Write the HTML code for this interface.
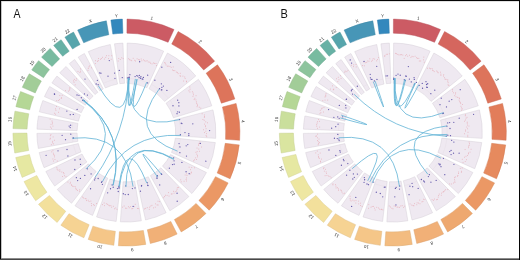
<!DOCTYPE html><html><head><meta charset="utf-8"><style>
html,body{margin:0;padding:0;background:#fff}
svg{display:block}
text{font-family:"Liberation Sans",sans-serif;font-size:4.6px;fill:#333;text-anchor:middle}
.tl{opacity:.99;will-change:transform}
.tr{fill:#efe9f1;stroke:#d3ccd5;stroke-width:.45}
.lab{font-size:12px;fill:#111;text-anchor:start}
</style></head><body>
<svg width="520" height="260" viewBox="0 0 520 260">
<rect x="0" y="0" width="520" height="260" fill="#fff"/>
<rect x="0" y="1" width="520" height="1" fill="#e2e2e2"/>
<rect x="1" y="0" width="1" height="260" fill="#c4c4c4"/>
<rect x="0" y="258" width="520" height="1" fill="#8c8c8c"/>
<rect x="0" y="0" width="520" height="1" fill="#050505"/>
<rect x="0" y="0" width="1" height="260" fill="#050505"/>
<rect x="0" y="259" width="520" height="1" fill="#484848"/>
<rect x="519" y="0" width="1" height="260" fill="#050505"/>
<g class="tl"><text class="lab" x="13.5" y="17.6" transform="translate(13.5 0) scale(0.88 1) translate(-13.5 0)">A</text>
<text class="lab" x="280.6" y="17.6" transform="translate(280.6 0) scale(0.92 1) translate(-280.6 0)">B</text></g>
<path d="M126.99 19.05A113.5 113.5 0 0 1 174.01 29.52L168.09 42.32A99.4 99.4 0 0 0 126.92 33.15Z" fill="#cc5b64" stroke="#b7515a" stroke-width="0.45"/>
<path d="M178.14 31.53A113.5 113.5 0 0 1 214.64 61.16L203.68 70.03A99.4 99.4 0 0 0 171.71 44.08Z" fill="#d5665e" stroke="#bf5b54" stroke-width="0.45"/>
<path d="M217.46 64.8A113.5 113.5 0 0 1 234.83 99.01L221.36 103.18A99.4 99.4 0 0 0 206.15 73.21Z" fill="#dd745b" stroke="#c66851" stroke-width="0.45"/>
<path d="M236.1 103.43A113.5 113.5 0 0 1 239.63 140.31L225.57 139.35A99.4 99.4 0 0 0 222.47 107.05Z" fill="#e27d5a" stroke="#cb7051" stroke-width="0.45"/>
<path d="M239.23 144.89A113.5 113.5 0 0 1 230.07 178.76L217.19 173.02A99.4 99.4 0 0 0 225.21 143.36Z" fill="#e68a5e" stroke="#cf7c54" stroke-width="0.45"/>
<path d="M228.11 182.93A113.5 113.5 0 0 1 209.18 210.2L198.9 200.55A99.4 99.4 0 0 0 215.47 176.67Z" fill="#eb9865" stroke="#d3885a" stroke-width="0.45"/>
<path d="M205.97 213.49A113.5 113.5 0 0 1 181.2 231.95L174.39 219.6A99.4 99.4 0 0 0 196.08 203.44Z" fill="#eea86f" stroke="#d69763" stroke-width="0.45"/>
<path d="M177.12 234.08A113.5 113.5 0 0 1 150.31 243.5L147.34 229.72A99.4 99.4 0 0 0 170.82 221.47Z" fill="#f1b077" stroke="#d89e6b" stroke-width="0.45"/>
<path d="M145.79 244.38A113.5 113.5 0 0 1 118.4 245.77L119.39 231.7A99.4 99.4 0 0 0 143.38 230.49Z" fill="#f3bc80" stroke="#daa973" stroke-width="0.45"/>
<path d="M113.82 245.35A113.5 113.5 0 0 1 88.17 239.42L92.92 226.14A99.4 99.4 0 0 0 115.38 231.34Z" fill="#f5c688" stroke="#dcb27a" stroke-width="0.45"/>
<path d="M83.87 237.78A113.5 113.5 0 0 1 60.85 225.21L68.99 213.7A99.4 99.4 0 0 0 89.15 224.71Z" fill="#f6d393" stroke="#ddbd84" stroke-width="0.45"/>
<path d="M57.15 222.48A113.5 113.5 0 0 1 38.5 204.35L49.42 195.43A99.4 99.4 0 0 0 65.75 211.3Z" fill="#f3e09c" stroke="#dac98c" stroke-width="0.45"/>
<path d="M35.66 200.73A113.5 113.5 0 0 1 24.04 181.6L36.76 175.5A99.4 99.4 0 0 0 46.94 192.26Z" fill="#eee7a2" stroke="#d6cf91" stroke-width="0.45"/>
<path d="M22.14 177.41A113.5 113.5 0 0 1 15.69 157.56L29.44 154.45A99.4 99.4 0 0 0 35.09 171.84Z" fill="#e6e8a2" stroke="#cfd091" stroke-width="0.45"/>
<path d="M14.77 153.05A113.5 113.5 0 0 1 12.9 133.2L27 133.12A99.4 99.4 0 0 0 28.64 150.51Z" fill="#dae5a0" stroke="#c4ce90" stroke-width="0.45"/>
<path d="M12.97 128.61A113.5 113.5 0 0 1 14.94 111.14L28.78 113.8A99.4 99.4 0 0 0 27.06 129.1Z" fill="#cadf9c" stroke="#b5c88c" stroke-width="0.45"/>
<path d="M15.9 106.64A113.5 113.5 0 0 1 20.56 91.55L33.71 96.64A99.4 99.4 0 0 0 29.62 109.86Z" fill="#b5d796" stroke="#a2c187" stroke-width="0.45"/>
<path d="M22.31 87.3A113.5 113.5 0 0 1 29.29 73.8L41.35 81.1A99.4 99.4 0 0 0 35.24 92.92Z" fill="#a2cd98" stroke="#91b888" stroke-width="0.45"/>
<path d="M31.75 69.92A113.5 113.5 0 0 1 38.58 60.65L49.49 69.59A99.4 99.4 0 0 0 43.51 77.7Z" fill="#8dc49d" stroke="#7eb08d" stroke-width="0.45"/>
<path d="M41.56 57.16A113.5 113.5 0 0 1 50.19 48.44L59.66 58.89A99.4 99.4 0 0 0 52.1 66.52Z" fill="#78bba0" stroke="#6ca890" stroke-width="0.45"/>
<path d="M53.66 45.42A113.5 113.5 0 0 1 61.1 39.72L69.21 51.25A99.4 99.4 0 0 0 62.7 56.25Z" fill="#67b1a5" stroke="#5c9f94" stroke-width="0.45"/>
<path d="M64.91 37.15A113.5 113.5 0 0 1 73.53 32.11L80.1 44.59A99.4 99.4 0 0 0 72.55 49Z" fill="#56a5ac" stroke="#4d949a" stroke-width="0.45"/>
<path d="M77.64 30.06A113.5 113.5 0 0 1 106.34 20.84L108.83 34.71A99.4 99.4 0 0 0 83.7 42.79Z" fill="#4796b7" stroke="#3f87a4" stroke-width="0.45"/>
<path d="M110.88 20.12A113.5 113.5 0 0 1 122.4 19.12L122.89 33.21A99.4 99.4 0 0 0 112.81 34.08Z" fill="#3388bd" stroke="#2d7aaa" stroke-width="0.45"/>
<g class="tl">
<text x="151.52" y="19.71" transform="rotate(12.55 151.52 19.71)">1</text>
<text x="199.27" y="42.81" transform="rotate(39.07 199.27 42.81)">2</text>
<text x="229.47" y="80.21" transform="rotate(63.08 229.47 80.21)">3</text>
<text x="241.47" y="121.53" transform="rotate(84.53 241.47 121.53)">4</text>
<text x="237.99" y="162.73" transform="rotate(105.14 237.99 162.73)">5</text>
<text x="221.37" y="198.46" transform="rotate(124.76 221.37 198.46)">6</text>
<text x="195.47" y="225.25" transform="rotate(143.31 195.47 225.25)">7</text>
<text x="164.71" y="241.62" transform="rotate(160.65 164.71 241.62)">8</text>
<text x="132.24" y="248" transform="rotate(177.1 132.24 248)">9</text>
<text x="100.35" y="245.18" transform="rotate(193.02 100.35 245.18)">10</text>
<text x="70.99" y="234" transform="rotate(208.64 70.99 234)">11</text>
<text x="45.84" y="215.46" transform="rotate(224.18 45.84 215.46)">12</text>
<text x="27.59" y="192.54" transform="rotate(238.74 27.59 192.54)">13</text>
<text x="16.46" y="168.28" transform="rotate(251.99 16.46 168.28)">14</text>
<text x="11.31" y="143.37" transform="rotate(264.63 11.31 143.37)">15</text>
<text x="11.53" y="119.6" transform="rotate(276.43 11.53 119.6)">16</text>
<text x="15.96" y="98.4" transform="rotate(287.18 15.96 98.4)">17</text>
<text x="23.71" y="79.47" transform="rotate(297.33 23.71 79.47)">18</text>
<text x="33.35" y="63.95" transform="rotate(306.4 33.35 63.95)">19</text>
<text x="44.27" y="51.2" transform="rotate(314.72 44.27 51.2)">20</text>
<text x="56.04" y="40.83" transform="rotate(322.51 56.04 40.83)">21</text>
<text x="68.11" y="32.72" transform="rotate(329.72 68.11 32.72)">22</text>
<text x="91.04" y="22.49" transform="rotate(342.19 91.04 22.49)">X</text>
<text x="116.45" y="17.38" transform="rotate(355.06 116.45 17.38)">Y</text>
</g>
<path d="M127.18 43.05A89.5 89.5 0 0 1 163.66 51.17L146.92 87.72A49.3 49.3 0 0 0 126.83 83.25Z" class="tr"/>
<path d="M167.48 53.03A89.5 89.5 0 0 1 195.78 76.02L164.62 101.41A49.3 49.3 0 0 0 149.03 88.75Z" class="tr"/>
<path d="M198.39 79.37A89.5 89.5 0 0 1 211.81 105.8L173.45 117.82A49.3 49.3 0 0 0 166.05 103.26Z" class="tr"/>
<path d="M212.98 109.89A89.5 89.5 0 0 1 215.71 138.36L175.6 135.75A49.3 49.3 0 0 0 174.09 120.07Z" class="tr"/>
<path d="M215.33 142.59A89.5 89.5 0 0 1 208.27 168.71L171.5 152.47A49.3 49.3 0 0 0 175.39 138.08Z" class="tr"/>
<path d="M206.46 172.55A89.5 89.5 0 0 1 191.89 193.55L162.47 166.15A49.3 49.3 0 0 0 170.5 154.59Z" class="tr"/>
<path d="M188.92 196.59A89.5 89.5 0 0 1 169.88 210.78L150.35 175.64A49.3 49.3 0 0 0 160.84 167.83Z" class="tr"/>
<path d="M166.12 212.75A89.5 89.5 0 0 1 145.56 219.98L136.95 180.71A49.3 49.3 0 0 0 148.28 176.73Z" class="tr"/>
<path d="M141.38 220.79A89.5 89.5 0 0 1 120.4 221.85L123.1 181.74A49.3 49.3 0 0 0 134.65 181.15Z" class="tr"/>
<path d="M116.17 221.46A89.5 89.5 0 0 1 96.55 216.92L109.96 179.03A49.3 49.3 0 0 0 120.76 181.53Z" class="tr"/>
<path d="M92.57 215.41A89.5 89.5 0 0 1 74.97 205.79L98.07 172.9A49.3 49.3 0 0 0 107.77 178.19Z" class="tr"/>
<path d="M71.55 203.27A89.5 89.5 0 0 1 57.28 189.41L88.33 163.87A49.3 49.3 0 0 0 96.18 171.51Z" class="tr"/>
<path d="M54.66 186.07A89.5 89.5 0 0 1 45.82 171.51L82.02 154.01A49.3 49.3 0 0 0 86.88 162.03Z" class="tr"/>
<path d="M44.06 167.64A89.5 89.5 0 0 1 39.17 152.58L78.35 143.58A49.3 49.3 0 0 0 81.05 151.88Z" class="tr"/>
<path d="M38.32 148.41A89.5 89.5 0 0 1 36.9 133.38L77.1 133.01A49.3 49.3 0 0 0 77.88 141.29Z" class="tr"/>
<path d="M36.97 129.13A89.5 89.5 0 0 1 38.45 115.97L77.95 123.42A49.3 49.3 0 0 0 77.14 130.66Z" class="tr"/>
<path d="M39.33 111.82A89.5 89.5 0 0 1 42.83 100.51L80.37 114.9A49.3 49.3 0 0 0 78.44 121.13Z" class="tr"/>
<path d="M44.45 96.58A89.5 89.5 0 0 1 49.66 86.49L84.13 107.18A49.3 49.3 0 0 0 81.26 112.74Z" class="tr"/>
<path d="M51.93 82.9A89.5 89.5 0 0 1 56.95 76.1L88.14 101.45A49.3 49.3 0 0 0 85.38 105.2Z" class="tr"/>
<path d="M59.71 72.86A89.5 89.5 0 0 1 66.08 66.44L93.17 96.13A49.3 49.3 0 0 0 89.66 99.67Z" class="tr"/>
<path d="M69.28 63.65A89.5 89.5 0 0 1 74.65 59.53L97.89 92.33A49.3 49.3 0 0 0 94.94 94.59Z" class="tr"/>
<path d="M78.17 57.15A89.5 89.5 0 0 1 84.43 53.5L103.28 89.01A49.3 49.3 0 0 0 99.84 91.02Z" class="tr"/>
<path d="M88.24 51.6A89.5 89.5 0 0 1 110.28 44.51L117.52 84.06A49.3 49.3 0 0 0 105.38 87.96Z" class="tr"/>
<path d="M114.47 43.85A89.5 89.5 0 0 1 122.93 43.12L124.49 83.29A49.3 49.3 0 0 0 119.83 83.69Z" class="tr"/>
<path d="M126.87 78.15A54.4 54.4 0 0 1 149.05 83.09M151.37 84.22A54.4 54.4 0 0 1 168.57 98.19M170.16 100.23A54.4 54.4 0 0 1 178.31 116.29M179.03 118.78A54.4 54.4 0 0 1 180.69 136.08M180.46 138.66A54.4 54.4 0 0 1 176.16 154.53M175.06 156.86A54.4 54.4 0 0 1 166.21 169.63M164.4 171.48A54.4 54.4 0 0 1 152.83 180.1M150.54 181.3A54.4 54.4 0 0 1 138.04 185.69M135.51 186.18A54.4 54.4 0 0 1 122.75 186.83M120.18 186.59A54.4 54.4 0 0 1 108.25 183.83M105.84 182.91A54.4 54.4 0 0 1 95.14 177.07M93.06 175.54A54.4 54.4 0 0 1 84.39 167.11M82.8 165.08A54.4 54.4 0 0 1 77.42 156.23M76.35 153.88A54.4 54.4 0 0 1 73.38 144.72M72.86 142.19A54.4 54.4 0 0 1 72 133.05M72.04 130.47A54.4 54.4 0 0 1 72.94 122.48M73.48 119.95A54.4 54.4 0 0 1 75.6 113.08M76.59 110.69A54.4 54.4 0 0 1 79.76 104.56M81.14 102.37A54.4 54.4 0 0 1 84.19 98.24M85.86 96.27A54.4 54.4 0 0 1 89.73 92.36M91.68 90.67A54.4 54.4 0 0 1 94.94 88.17M97.09 86.72A54.4 54.4 0 0 1 100.89 84.5M103.2 83.34A54.4 54.4 0 0 1 116.6 79.04M119.15 78.64A54.4 54.4 0 0 1 124.29 78.19" fill="none" stroke="#e2dce4" stroke-width=".4"/>
<path d="M128.35 58.69h.7M129.29 59.72h.7M130.48 60.09h.7M131.42 60.64h.7M132.8 58.36h.7M134.44 60.29h.7M135.01 61.07h.7M136.74 58.82h.7M138.49 59.49h.7M138.96 60h.7M140.83 59.06h.7M141.52 60.76h.7M143.18 59.82h.7M144.27 60.78h.7M145.52 61.17h.7M146.74 60.7h.7M147.87 62h.7M149.45 62.18h.7M150.2 63.2h.7M151.66 63.84h.7M153.23 62.95h.7M154.3 63.42h.7M155.63 63.52h.7M156.22 65.57h.7M164 62.68h.7M165.09 63.16h.7M165.65 64.89h.7M166.87 66.2h.7M167.84 66.15h.7M169.58 66.38h.7M170.8 67.38h.7M172.83 66.93h.7M172.31 69.99h.7M173.28 70.56h.7M174.48 70.6h.7M175.91 72.06h.7M176.97 72.44h.7M177.76 73.58h.7M179.86 73.36h.7M179.65 75.71h.7M180.38 76.2h.7M182.57 76.16h.7M184.43 77.02h.7M184.78 78.53h.7M183.36 81.06h.7M185.98 81.19h.7M186.26 81.85h.7M189.53 86.99h.7M189.69 89.22h.7M188.57 90.81h.7M189.57 92.07h.7M191.98 91.76h.7M192.77 93.1h.7M193.07 94.76h.7M192.62 96.39h.7M195.7 95.69h.7M194.52 98.35h.7M193.77 99.55h.7M195.59 99.88h.7M195.96 101.84h.7M196.11 103.3h.7M196.9 104.28h.7M197.31 105.59h.7M196.69 106.69h.7M198.87 107.24h.7M200.48 108.15h.7M201.77 113.72h.7M203.98 115h.7M204.05 116.55h.7M203.93 117.37h.7M202.58 119.51h.7M203.81 120.28h.7M205.43 121.84h.7M207.13 122.79h.7M204.15 124.13h.7M205.29 125.72h.7M205.3 126.69h.7M205.75 128.69h.7M203.07 129.72h.7M205.53 131.23h.7M204.17 132.55h.7M206.13 133.64h.7M205.72 135.55h.7M206.39 136.69h.7M199.57 141.97h.7M199.23 143.46h.7M198.01 144.01h.7M198.13 145.32h.7M201.33 147.02h.7M196.66 148.07h.7M198.49 149.1h.7M199.25 151.31h.7M196.79 151.62h.7M195.59 152.36h.7M196.43 154.14h.7M197.26 155.36h.7M197.24 156.87h.7M195.36 157.87h.7M196.08 159.5h.7M194.27 159.87h.7M193.32 160.85h.7M194.03 167.78h.7M191.45 167.47h.7M188.76 167.24h.7M190.19 169.66h.7M190.92 172.14h.7M190.92 172.88h.7M189.86 174.03h.7M186.39 173.79h.7M186.67 175.47h.7M184.78 175.04h.7M186.21 177.93h.7M185.74 179.44h.7M186.1 180.99h.7M183.73 181.3h.7M180.4 179.84h.7M180.85 181.82h.7M178.29 187.43h.7M176.94 187.63h.7M176.71 189.27h.7M176.36 190.95h.7M174.9 191.67h.7M173.24 191.33h.7M173.69 193.22h.7M171.72 193.88h.7M170.91 194h.7M168.21 192.58h.7M168.68 196.07h.7M166.72 195.42h.7M165.08 195.25h.7M164.23 196.51h.7M163.41 197.73h.7M159.26 201.6h.7M157.67 201.25h.7M157.71 205.05h.7M156.75 204.91h.7M155.11 203.83h.7M154.88 207.19h.7M153.15 207.87h.7M151.62 205.37h.7M150.49 206.03h.7M149.35 207.18h.7M148.89 209.37h.7M146.87 207.63h.7M145.35 208.36h.7M144.18 208.98h.7M138.4 208.6h.7M137.17 208.46h.7M134.85 204.37h.7M133.81 206.61h.7M132.5 208.53h.7M131.52 208.75h.7M130.3 206.62h.7M128.88 207.79h.7M127.97 206.61h.7M126.46 208.31h.7M125.08 208.21h.7M123.77 206.02h.7M122.32 207.16h.7M116.6 209.3h.7M115.45 207.97h.7M114.06 208.77h.7M112.95 206.3h.7M111.37 207.23h.7M110.56 205.64h.7M109.35 205.77h.7M108.41 205.18h.7M107.18 204.32h.7M105.95 203.75h.7M104.05 205.64h.7M103.77 203h.7M102.16 204.6h.7M96.09 203.53h.7M93.96 205.39h.7M93.24 204.62h.7M91.25 205.63h.7M90.97 203.59h.7M90.51 201.13h.7M88.71 201.54h.7M87.81 200.28h.7M86.1 200.56h.7M85.72 198.87h.7M84.8 198.52h.7M83.11 197.92h.7M82.07 197.05h.7M79.08 191.3h.7M79.42 189.77h.7M77.01 190.43h.7M75.92 189.58h.7M75.54 188.58h.7M75.05 186.9h.7M73.68 186.55h.7M72.48 186.39h.7M71.49 185.51h.7M71.01 184.75h.7M69.74 183.65h.7M70.1 182.28h.7M67.6 182.1h.7M65.66 176.72h.7M64.05 175.71h.7M62 176.53h.7M63.65 173.67h.7M63.04 172.55h.7M61.49 172.05h.7M59.5 171.33h.7M59.5 169.86h.7M57.69 170.26h.7M56.79 169.25h.7M56.52 167.66h.7M56.89 161.12h.7M53.08 161.06h.7M54.62 159.44h.7M52.54 158.99h.7M54.03 156.86h.7M54.26 155.25h.7M53.24 154.7h.7M52.96 153.22h.7M51.45 151.86h.7M52.6 150.64h.7M50.95 144.66h.7M53.32 143.85h.7M52.13 142.77h.7M52.35 141.35h.7M53.99 140.29h.7M49.64 139.14h.7M50.23 138.24h.7M52.76 136.93h.7M49.95 135.67h.7M50.6 134.6h.7M51.12 128.23h.7M49.96 127.06h.7M52.59 126.12h.7M50.66 124.35h.7M52.09 123.8h.7M51.95 122.31h.7M51.67 120.99h.7M49.75 119.15h.7M55.32 114.24h.7M54.08 113.26h.7M58.06 112.34h.7M55.58 110.3h.7M55.27 108.8h.7M59.08 108.8h.7M56.21 106.51h.7M56.43 100.7h.7M58.36 100.47h.7M59.25 99.54h.7M60.82 98.3h.7M61.32 97.81h.7M59.51 95.54h.7M61.83 95.37h.7M65.17 90.6h.7M67.99 91.17h.7M69.29 90.08h.7M69.55 88.79h.7M69.51 87.68h.7M74.81 84.82h.7M73.68 82.3h.7M73.33 80.86h.7M73.95 79.41h.7M75.64 80.52h.7M76.33 78.8h.7M77.65 71.43h.7M79.62 72.51h.7M80.15 71.22h.7M80.02 68.94h.7M87.66 70.38h.7M87.87 68.46h.7M88.54 66.96h.7M89.14 65.96h.7M91.05 67.77h.7M94.94 63.55h.7M95.12 60.65h.7M97.07 61.39h.7M97.9 60.6h.7M98.17 58.54h.7M100.03 59.27h.7M101 58.59h.7M102.02 57.32h.7M103.95 59.07h.7M105.4 57.42h.7M106.06 55.68h.7M108.09 58.6h.7M108.54 55.68h.7M110.84 59.3h.7M111.4 55.75h.7M117.84 61.01h.7M118.45 58.49h.7M119.9 59.47h.7M121.43 57.75h.7M122.78 58.61h.7" stroke="#e2848f" stroke-width=".75" opacity=".75" fill="none"/>
<g fill="#4a3f9f" opacity=".85"><circle cx="142.15" cy="78.97" r=".65"/><circle cx="147.66" cy="75.19" r=".65"/><circle cx="140.91" cy="76.67" r=".65"/><circle cx="139.67" cy="61.77" r=".65"/><circle cx="142.85" cy="79.15" r=".65"/><circle cx="139.32" cy="75.39" r=".65"/><circle cx="139.1" cy="77.65" r=".65"/><circle cx="143.39" cy="77.42" r=".65"/><circle cx="140.59" cy="78.26" r=".65"/><circle cx="161.82" cy="67.16" r=".65"/><circle cx="161.35" cy="83.85" r=".65"/><circle cx="161.87" cy="89.79" r=".65"/><circle cx="161.88" cy="87.28" r=".65"/><circle cx="163.35" cy="86.1" r=".65"/><circle cx="170.62" cy="62.44" r=".65"/><circle cx="161.39" cy="89.79" r=".65"/><circle cx="154.88" cy="80.26" r=".65"/><circle cx="166.89" cy="90.43" r=".65"/><circle cx="177.67" cy="100.19" r=".65"/><circle cx="178.89" cy="105.89" r=".65"/><circle cx="177.01" cy="113.7" r=".65"/><circle cx="172.97" cy="105.74" r=".65"/><circle cx="177.76" cy="111.82" r=".65"/><circle cx="179.43" cy="112.17" r=".65"/><circle cx="178.83" cy="102.71" r=".65"/><circle cx="181.94" cy="123.54" r=".65"/><circle cx="184.97" cy="132.58" r=".65"/><circle cx="188.82" cy="133.63" r=".65"/><circle cx="188.81" cy="135.52" r=".65"/><circle cx="209.61" cy="130.55" r=".65"/><circle cx="192.82" cy="123.79" r=".65"/><circle cx="181.26" cy="123.26" r=".65"/><circle cx="186.48" cy="156.03" r=".65"/><circle cx="186.17" cy="145.82" r=".65"/><circle cx="187.78" cy="144.61" r=".65"/><circle cx="200.3" cy="143.44" r=".65"/><circle cx="179.05" cy="143.58" r=".65"/><circle cx="179.95" cy="146.93" r=".65"/><circle cx="205.84" cy="161.14" r=".65"/><circle cx="189.18" cy="173.65" r=".65"/><circle cx="174.14" cy="164.18" r=".65"/><circle cx="181.91" cy="162.41" r=".65"/><circle cx="169.38" cy="168.15" r=".65"/><circle cx="186.07" cy="171.74" r=".65"/><circle cx="172.46" cy="164.53" r=".65"/><circle cx="161.66" cy="174.44" r=".65"/><circle cx="157.42" cy="175.65" r=".65"/><circle cx="157.01" cy="178.4" r=".65"/><circle cx="177.19" cy="201.23" r=".65"/><circle cx="159.73" cy="184.89" r=".65"/><circle cx="177.06" cy="193.23" r=".65"/><circle cx="147.7" cy="185.21" r=".65"/><circle cx="147.99" cy="185.56" r=".65"/><circle cx="141.47" cy="186" r=".65"/><circle cx="140.45" cy="191.14" r=".65"/><circle cx="141.61" cy="185.53" r=".65"/><circle cx="134.97" cy="187.95" r=".65"/><circle cx="128.27" cy="194.52" r=".65"/><circle cx="123.31" cy="193.75" r=".65"/><circle cx="125.23" cy="194.57" r=".65"/><circle cx="133.14" cy="206.46" r=".65"/><circle cx="107.66" cy="192.86" r=".65"/><circle cx="117.44" cy="188.57" r=".65"/><circle cx="118.25" cy="191.48" r=".65"/><circle cx="110.51" cy="188.73" r=".65"/><circle cx="119.03" cy="187.91" r=".65"/><circle cx="94.61" cy="179.91" r=".65"/><circle cx="90.56" cy="188.77" r=".65"/><circle cx="101.5" cy="182.33" r=".65"/><circle cx="98.15" cy="178.49" r=".65"/><circle cx="102.38" cy="184.37" r=".65"/><circle cx="77.67" cy="180.54" r=".65"/><circle cx="76.36" cy="177.69" r=".65"/><circle cx="84.81" cy="175.44" r=".65"/><circle cx="91.1" cy="173.91" r=".65"/><circle cx="80.41" cy="178.43" r=".65"/><circle cx="74.98" cy="160" r=".65"/><circle cx="74.78" cy="169.5" r=".65"/><circle cx="80.55" cy="164.45" r=".65"/><circle cx="80.2" cy="159.2" r=".65"/><circle cx="67.01" cy="149.5" r=".65"/><circle cx="46.1" cy="155.35" r=".65"/><circle cx="58.01" cy="150.84" r=".65"/><circle cx="67.92" cy="155.98" r=".65"/><circle cx="62.13" cy="135.35" r=".65"/><circle cx="73.45" cy="138.09" r=".65"/><circle cx="65.52" cy="139.67" r=".65"/><circle cx="70.78" cy="134.18" r=".65"/><circle cx="70.65" cy="125.24" r=".65"/><circle cx="70.15" cy="127.59" r=".65"/><circle cx="69.15" cy="126.09" r=".65"/><circle cx="70.25" cy="114.7" r=".65"/><circle cx="73.28" cy="114.38" r=".65"/><circle cx="66.85" cy="111.08" r=".65"/><circle cx="77.1" cy="109.45" r=".65"/><circle cx="54.61" cy="94.24" r=".65"/><circle cx="54.35" cy="94" r=".65"/><circle cx="78.96" cy="95.36" r=".65"/><circle cx="77.03" cy="94.99" r=".65"/><circle cx="87.42" cy="95.06" r=".65"/><circle cx="84.46" cy="93.92" r=".65"/><circle cx="85.01" cy="79.07" r=".65"/><circle cx="98.16" cy="84.76" r=".65"/><circle cx="97.37" cy="80.35" r=".65"/><circle cx="100.91" cy="73.15" r=".65"/><circle cx="99.74" cy="72.93" r=".65"/><circle cx="108.01" cy="76.21" r=".65"/><circle cx="109.29" cy="60.59" r=".65"/><circle cx="114.58" cy="73.06" r=".65"/><circle cx="114.97" cy="78.28" r=".65"/><circle cx="119.3" cy="70.44" r=".65"/><circle cx="122.27" cy="77.58" r=".65"/><circle cx="96.16" cy="84" r=".65"/><circle cx="127.4" cy="77.93" r=".65"/><circle cx="129.18" cy="79.02" r=".65"/><circle cx="179.64" cy="119.62" r=".65"/><circle cx="129.87" cy="74.7" r=".65"/><circle cx="95.14" cy="178.05" r=".65"/><circle cx="129.25" cy="77.13" r=".65"/><circle cx="135.09" cy="76.54" r=".65"/><circle cx="128.91" cy="77.43" r=".65"/><circle cx="136.78" cy="75.55" r=".65"/><circle cx="137.76" cy="76.09" r=".65"/><circle cx="147.6" cy="82.92" r=".65"/><circle cx="159.53" cy="88.74" r=".65"/><circle cx="179.87" cy="152.67" r=".65"/><circle cx="180.36" cy="134.76" r=".65"/><circle cx="101.97" cy="181.56" r=".65"/><circle cx="173.65" cy="157.79" r=".65"/><circle cx="118.98" cy="187.85" r=".65"/><circle cx="174.06" cy="160.85" r=".65"/><circle cx="125.69" cy="185.86" r=".65"/><circle cx="161.28" cy="173.82" r=".65"/><circle cx="156.99" cy="177.01" r=".65"/><circle cx="147.43" cy="182.85" r=".65"/><circle cx="118.9" cy="186.39" r=".65"/><circle cx="73.17" cy="137.91" r=".65"/><circle cx="132.37" cy="188.55" r=".65"/><circle cx="84.26" cy="100.7" r=".65"/><circle cx="113.18" cy="187.27" r=".65"/><circle cx="81.3" cy="97.75" r=".65"/><circle cx="112.14" cy="184.88" r=".65"/><circle cx="82.73" cy="100.25" r=".65"/><circle cx="87.37" cy="168.81" r=".65"/></g>
<path d="M98.38 85.92Q126.4 132.55 128.3 78.18M128.3 78.18Q126.4 132.55 179.25 119.67M128.77 78.2Q126.4 132.55 95.2 177.11M128.3 78.18Q126.4 132.55 135.38 78.9M129.25 78.22Q126.4 132.55 137.25 79.24M136.78 79.15Q126.4 132.55 146.78 82.11M159.14 89.1Q126.4 132.55 177.52 151.16M180.73 135.4Q126.4 132.55 102.55 181.44M173.98 158.92Q126.4 132.55 119.3 186.48M173.7 159.42Q126.4 132.55 125.93 186.95M161.37 174.22Q126.4 132.55 157.6 177.11M146.78 182.99Q126.4 132.55 118.83 186.42M72.3 138.24Q126.4 132.55 133.03 186.54M82.95 99.81Q126.4 132.55 113.24 185.33M83.13 99.58Q126.4 132.55 112.96 185.26M82.67 100.19Q126.4 132.55 85.97 168.95" stroke="#5fb3d6" stroke-width=".8" fill="none"/>
<path d="M393.44 19.05A113.5 113.5 0 0 1 440.46 29.52L434.54 42.32A99.4 99.4 0 0 0 393.37 33.15Z" fill="#cc5b64" stroke="#b7515a" stroke-width="0.45"/>
<path d="M444.59 31.53A113.5 113.5 0 0 1 481.09 61.16L470.13 70.03A99.4 99.4 0 0 0 438.16 44.08Z" fill="#d5665e" stroke="#bf5b54" stroke-width="0.45"/>
<path d="M483.91 64.8A113.5 113.5 0 0 1 501.28 99.01L487.81 103.18A99.4 99.4 0 0 0 472.6 73.21Z" fill="#dd745b" stroke="#c66851" stroke-width="0.45"/>
<path d="M502.55 103.43A113.5 113.5 0 0 1 506.08 140.31L492.02 139.35A99.4 99.4 0 0 0 488.92 107.05Z" fill="#e27d5a" stroke="#cb7051" stroke-width="0.45"/>
<path d="M505.68 144.89A113.5 113.5 0 0 1 496.52 178.76L483.64 173.02A99.4 99.4 0 0 0 491.66 143.36Z" fill="#e68a5e" stroke="#cf7c54" stroke-width="0.45"/>
<path d="M494.56 182.93A113.5 113.5 0 0 1 475.63 210.2L465.35 200.55A99.4 99.4 0 0 0 481.92 176.67Z" fill="#eb9865" stroke="#d3885a" stroke-width="0.45"/>
<path d="M472.42 213.49A113.5 113.5 0 0 1 447.65 231.95L440.84 219.6A99.4 99.4 0 0 0 462.53 203.44Z" fill="#eea86f" stroke="#d69763" stroke-width="0.45"/>
<path d="M443.57 234.08A113.5 113.5 0 0 1 416.76 243.5L413.79 229.72A99.4 99.4 0 0 0 437.27 221.47Z" fill="#f1b077" stroke="#d89e6b" stroke-width="0.45"/>
<path d="M412.24 244.38A113.5 113.5 0 0 1 384.85 245.77L385.84 231.7A99.4 99.4 0 0 0 409.83 230.49Z" fill="#f3bc80" stroke="#daa973" stroke-width="0.45"/>
<path d="M380.27 245.35A113.5 113.5 0 0 1 354.62 239.42L359.37 226.14A99.4 99.4 0 0 0 381.83 231.34Z" fill="#f5c688" stroke="#dcb27a" stroke-width="0.45"/>
<path d="M350.32 237.78A113.5 113.5 0 0 1 327.3 225.21L335.44 213.7A99.4 99.4 0 0 0 355.6 224.71Z" fill="#f6d393" stroke="#ddbd84" stroke-width="0.45"/>
<path d="M323.6 222.48A113.5 113.5 0 0 1 304.95 204.35L315.87 195.43A99.4 99.4 0 0 0 332.2 211.3Z" fill="#f3e09c" stroke="#dac98c" stroke-width="0.45"/>
<path d="M302.11 200.73A113.5 113.5 0 0 1 290.49 181.6L303.21 175.5A99.4 99.4 0 0 0 313.39 192.26Z" fill="#eee7a2" stroke="#d6cf91" stroke-width="0.45"/>
<path d="M288.59 177.41A113.5 113.5 0 0 1 282.14 157.56L295.89 154.45A99.4 99.4 0 0 0 301.54 171.84Z" fill="#e6e8a2" stroke="#cfd091" stroke-width="0.45"/>
<path d="M281.22 153.05A113.5 113.5 0 0 1 279.35 133.2L293.45 133.12A99.4 99.4 0 0 0 295.09 150.51Z" fill="#dae5a0" stroke="#c4ce90" stroke-width="0.45"/>
<path d="M279.42 128.61A113.5 113.5 0 0 1 281.39 111.14L295.23 113.8A99.4 99.4 0 0 0 293.51 129.1Z" fill="#cadf9c" stroke="#b5c88c" stroke-width="0.45"/>
<path d="M282.35 106.64A113.5 113.5 0 0 1 287.01 91.55L300.16 96.64A99.4 99.4 0 0 0 296.07 109.86Z" fill="#b5d796" stroke="#a2c187" stroke-width="0.45"/>
<path d="M288.76 87.3A113.5 113.5 0 0 1 295.74 73.8L307.8 81.1A99.4 99.4 0 0 0 301.69 92.92Z" fill="#a2cd98" stroke="#91b888" stroke-width="0.45"/>
<path d="M298.2 69.92A113.5 113.5 0 0 1 305.03 60.65L315.94 69.59A99.4 99.4 0 0 0 309.96 77.7Z" fill="#8dc49d" stroke="#7eb08d" stroke-width="0.45"/>
<path d="M308.01 57.16A113.5 113.5 0 0 1 316.64 48.44L326.11 58.89A99.4 99.4 0 0 0 318.55 66.52Z" fill="#78bba0" stroke="#6ca890" stroke-width="0.45"/>
<path d="M320.11 45.42A113.5 113.5 0 0 1 327.55 39.72L335.66 51.25A99.4 99.4 0 0 0 329.15 56.25Z" fill="#67b1a5" stroke="#5c9f94" stroke-width="0.45"/>
<path d="M331.36 37.15A113.5 113.5 0 0 1 339.98 32.11L346.55 44.59A99.4 99.4 0 0 0 339 49Z" fill="#56a5ac" stroke="#4d949a" stroke-width="0.45"/>
<path d="M344.09 30.06A113.5 113.5 0 0 1 372.79 20.84L375.28 34.71A99.4 99.4 0 0 0 350.15 42.79Z" fill="#4796b7" stroke="#3f87a4" stroke-width="0.45"/>
<path d="M377.33 20.12A113.5 113.5 0 0 1 388.85 19.12L389.34 33.21A99.4 99.4 0 0 0 379.26 34.08Z" fill="#3388bd" stroke="#2d7aaa" stroke-width="0.45"/>
<g class="tl">
<text x="417.97" y="19.71" transform="rotate(12.55 417.97 19.71)">1</text>
<text x="465.72" y="42.81" transform="rotate(39.07 465.72 42.81)">2</text>
<text x="495.92" y="80.21" transform="rotate(63.08 495.92 80.21)">3</text>
<text x="507.92" y="121.53" transform="rotate(84.53 507.92 121.53)">4</text>
<text x="504.44" y="162.73" transform="rotate(105.14 504.44 162.73)">5</text>
<text x="487.82" y="198.46" transform="rotate(124.76 487.82 198.46)">6</text>
<text x="461.92" y="225.25" transform="rotate(143.31 461.92 225.25)">7</text>
<text x="431.16" y="241.62" transform="rotate(160.65 431.16 241.62)">8</text>
<text x="398.69" y="248" transform="rotate(177.1 398.69 248)">9</text>
<text x="366.8" y="245.18" transform="rotate(193.02 366.8 245.18)">10</text>
<text x="337.44" y="234" transform="rotate(208.64 337.44 234)">11</text>
<text x="312.29" y="215.46" transform="rotate(224.18 312.29 215.46)">12</text>
<text x="294.04" y="192.54" transform="rotate(238.74 294.04 192.54)">13</text>
<text x="282.91" y="168.28" transform="rotate(251.99 282.91 168.28)">14</text>
<text x="277.76" y="143.37" transform="rotate(264.63 277.76 143.37)">15</text>
<text x="277.98" y="119.6" transform="rotate(276.43 277.98 119.6)">16</text>
<text x="282.41" y="98.4" transform="rotate(287.18 282.41 98.4)">17</text>
<text x="290.16" y="79.47" transform="rotate(297.33 290.16 79.47)">18</text>
<text x="299.8" y="63.95" transform="rotate(306.4 299.8 63.95)">19</text>
<text x="310.72" y="51.2" transform="rotate(314.72 310.72 51.2)">20</text>
<text x="322.49" y="40.83" transform="rotate(322.51 322.49 40.83)">21</text>
<text x="334.56" y="32.72" transform="rotate(329.72 334.56 32.72)">22</text>
<text x="357.49" y="22.49" transform="rotate(342.19 357.49 22.49)">X</text>
<text x="382.9" y="17.38" transform="rotate(355.06 382.9 17.38)">Y</text>
</g>
<path d="M393.63 43.05A89.5 89.5 0 0 1 430.11 51.17L413.37 87.72A49.3 49.3 0 0 0 393.28 83.25Z" class="tr"/>
<path d="M433.93 53.03A89.5 89.5 0 0 1 462.23 76.02L431.07 101.41A49.3 49.3 0 0 0 415.48 88.75Z" class="tr"/>
<path d="M464.84 79.37A89.5 89.5 0 0 1 478.26 105.8L439.9 117.82A49.3 49.3 0 0 0 432.5 103.26Z" class="tr"/>
<path d="M479.43 109.89A89.5 89.5 0 0 1 482.16 138.36L442.05 135.75A49.3 49.3 0 0 0 440.54 120.07Z" class="tr"/>
<path d="M481.78 142.59A89.5 89.5 0 0 1 474.72 168.71L437.95 152.47A49.3 49.3 0 0 0 441.84 138.08Z" class="tr"/>
<path d="M472.91 172.55A89.5 89.5 0 0 1 458.34 193.55L428.92 166.15A49.3 49.3 0 0 0 436.95 154.59Z" class="tr"/>
<path d="M455.37 196.59A89.5 89.5 0 0 1 436.33 210.78L416.8 175.64A49.3 49.3 0 0 0 427.29 167.83Z" class="tr"/>
<path d="M432.57 212.75A89.5 89.5 0 0 1 412.01 219.98L403.4 180.71A49.3 49.3 0 0 0 414.73 176.73Z" class="tr"/>
<path d="M407.83 220.79A89.5 89.5 0 0 1 386.85 221.85L389.55 181.74A49.3 49.3 0 0 0 401.1 181.15Z" class="tr"/>
<path d="M382.62 221.46A89.5 89.5 0 0 1 363 216.92L376.41 179.03A49.3 49.3 0 0 0 387.21 181.53Z" class="tr"/>
<path d="M359.02 215.41A89.5 89.5 0 0 1 341.42 205.79L364.52 172.9A49.3 49.3 0 0 0 374.22 178.19Z" class="tr"/>
<path d="M338 203.27A89.5 89.5 0 0 1 323.73 189.41L354.78 163.87A49.3 49.3 0 0 0 362.63 171.51Z" class="tr"/>
<path d="M321.11 186.07A89.5 89.5 0 0 1 312.27 171.51L348.47 154.01A49.3 49.3 0 0 0 353.33 162.03Z" class="tr"/>
<path d="M310.51 167.64A89.5 89.5 0 0 1 305.62 152.58L344.8 143.58A49.3 49.3 0 0 0 347.5 151.88Z" class="tr"/>
<path d="M304.77 148.41A89.5 89.5 0 0 1 303.35 133.38L343.55 133.01A49.3 49.3 0 0 0 344.33 141.29Z" class="tr"/>
<path d="M303.42 129.13A89.5 89.5 0 0 1 304.9 115.97L344.4 123.42A49.3 49.3 0 0 0 343.59 130.66Z" class="tr"/>
<path d="M305.78 111.82A89.5 89.5 0 0 1 309.28 100.51L346.82 114.9A49.3 49.3 0 0 0 344.89 121.13Z" class="tr"/>
<path d="M310.9 96.58A89.5 89.5 0 0 1 316.11 86.49L350.58 107.18A49.3 49.3 0 0 0 347.71 112.74Z" class="tr"/>
<path d="M318.38 82.9A89.5 89.5 0 0 1 323.4 76.1L354.59 101.45A49.3 49.3 0 0 0 351.83 105.2Z" class="tr"/>
<path d="M326.16 72.86A89.5 89.5 0 0 1 332.53 66.44L359.62 96.13A49.3 49.3 0 0 0 356.11 99.67Z" class="tr"/>
<path d="M335.73 63.65A89.5 89.5 0 0 1 341.1 59.53L364.34 92.33A49.3 49.3 0 0 0 361.39 94.59Z" class="tr"/>
<path d="M344.62 57.15A89.5 89.5 0 0 1 350.88 53.5L369.73 89.01A49.3 49.3 0 0 0 366.29 91.02Z" class="tr"/>
<path d="M354.69 51.6A89.5 89.5 0 0 1 376.73 44.51L383.97 84.06A49.3 49.3 0 0 0 371.83 87.96Z" class="tr"/>
<path d="M380.92 43.85A89.5 89.5 0 0 1 389.38 43.12L390.94 83.29A49.3 49.3 0 0 0 386.28 83.69Z" class="tr"/>
<path d="M393.32 78.15A54.4 54.4 0 0 1 415.5 83.09M417.82 84.22A54.4 54.4 0 0 1 435.02 98.19M436.61 100.23A54.4 54.4 0 0 1 444.76 116.29M445.48 118.78A54.4 54.4 0 0 1 447.14 136.08M446.91 138.66A54.4 54.4 0 0 1 442.61 154.53M441.51 156.86A54.4 54.4 0 0 1 432.66 169.63M430.85 171.48A54.4 54.4 0 0 1 419.28 180.1M416.99 181.3A54.4 54.4 0 0 1 404.49 185.69M401.96 186.18A54.4 54.4 0 0 1 389.2 186.83M386.63 186.59A54.4 54.4 0 0 1 374.7 183.83M372.29 182.91A54.4 54.4 0 0 1 361.59 177.07M359.51 175.54A54.4 54.4 0 0 1 350.84 167.11M349.25 165.08A54.4 54.4 0 0 1 343.87 156.23M342.8 153.88A54.4 54.4 0 0 1 339.83 144.72M339.31 142.19A54.4 54.4 0 0 1 338.45 133.05M338.49 130.47A54.4 54.4 0 0 1 339.39 122.48M339.93 119.95A54.4 54.4 0 0 1 342.05 113.08M343.04 110.69A54.4 54.4 0 0 1 346.21 104.56M347.59 102.37A54.4 54.4 0 0 1 350.64 98.24M352.31 96.27A54.4 54.4 0 0 1 356.18 92.36M358.13 90.67A54.4 54.4 0 0 1 361.39 88.17M363.54 86.72A54.4 54.4 0 0 1 367.34 84.5M369.65 83.34A54.4 54.4 0 0 1 383.05 79.04M385.6 78.64A54.4 54.4 0 0 1 390.74 78.19" fill="none" stroke="#e2dce4" stroke-width=".4"/>
<path d="M395.02 53.37h.7M396.26 53.71h.7M397.49 54.45h.7M398.68 54.93h.7M400.04 54.76h.7M401.25 54.61h.7M402.51 55.07h.7M403.81 58.46h.7M405.23 55.7h.7M406.34 54.65h.7M407.41 56.22h.7M409.25 55.31h.7M410.58 57.4h.7M411.65 56.35h.7M412.77 56.68h.7M414.69 56.3h.7M416.1 57.69h.7M417.19 58.38h.7M418.51 58.38h.7M418.95 61.03h.7M420.38 60.98h.7M423.51 57.12h.7M423.15 59.83h.7M423.83 62.24h.7M427.24 68.22h.7M429.11 68.15h.7M430.15 68.74h.7M431.7 68.51h.7M432.24 70.12h.7M432.81 70.63h.7M433.86 71.6h.7M436.43 71.03h.7M437.34 71.98h.7M437.83 72.71h.7M440.07 72.18h.7M440.49 74.15h.7M440.59 75.39h.7M443.43 74.71h.7M443.3 76.07h.7M444.3 77.75h.7M444.74 79.27h.7M445.73 79.38h.7M447.45 79.78h.7M447.44 81.22h.7M447.78 82.66h.7M447.72 84.75h.7M448.55 85.47h.7M452.32 89.57h.7M452.09 91.18h.7M453.05 92.82h.7M455.34 92.77h.7M455.03 93.99h.7M454.42 95.63h.7M455.67 96.79h.7M456.99 97.38h.7M458.67 97.74h.7M459.01 98.52h.7M458.78 100.13h.7M459.3 101.78h.7M460.12 102.32h.7M460.4 103.6h.7M462 104.49h.7M460.61 106.25h.7M461.08 107.87h.7M461.95 108.92h.7M461.19 110.11h.7M465.31 114.73h.7M464.92 115.73h.7M466.68 117.35h.7M465.72 118.18h.7M465.23 119.95h.7M464.26 121.25h.7M466.83 122.15h.7M466.87 123.23h.7M467.06 125.07h.7M468.61 126.06h.7M466.43 127.05h.7M467.33 128.77h.7M465.16 130h.7M465.01 131.15h.7M467.67 132.32h.7M464.13 133.75h.7M467.47 135.31h.7M467.5 136.7h.7M468.75 142.15h.7M469.05 143.61h.7M468.9 145.26h.7M468.18 146.12h.7M468.32 147.66h.7M470.7 149.31h.7M464.73 149.52h.7M469.69 152.16h.7M468.01 152.94h.7M467.99 153.87h.7M467.04 155.47h.7M465.63 156.34h.7M464.23 157.23h.7M466.13 159.7h.7M461.91 159.31h.7M464.84 161.55h.7M462.7 162.45h.7M461.84 167.96h.7M459.87 168.41h.7M461.32 171.3h.7M460.96 172.31h.7M458.21 172.06h.7M458.12 173.51h.7M457.59 175.49h.7M457.02 176.25h.7M455.17 176.93h.7M454.08 177.42h.7M454.17 179.32h.7M454.46 181.06h.7M454.6 182.41h.7M453.04 183.05h.7M451.32 183.97h.7M449.39 183.95h.7M447.46 189.57h.7M445.21 189.79h.7M444.29 190.93h.7M443.06 191.59h.7M442.64 192.19h.7M441.28 193.18h.7M440.88 195.26h.7M438.9 194.1h.7M438.35 195.47h.7M437.86 197.13h.7M437.09 199.42h.7M436.22 199.68h.7M434.22 199.02h.7M433.34 200.3h.7M431.71 199.67h.7M424.56 199.58h.7M423.02 199.26h.7M422.61 201.42h.7M421.63 201.88h.7M419.44 200.14h.7M419.64 203.72h.7M418.17 203.06h.7M416.74 202.84h.7M416.47 204.73h.7M414.17 203.64h.7M413.56 205.82h.7M412.75 205.54h.7M411.47 205.1h.7M409.66 203.95h.7M404.36 206.16h.7M403.37 207.42h.7M401.85 205.67h.7M400.49 205.96h.7M399.03 207.42h.7M397.64 207.15h.7M396.68 207.07h.7M395.29 206.39h.7M393.76 205.97h.7M392.67 208.8h.7M391.53 208.24h.7M390.2 206.99h.7M388.85 206.01h.7M382.52 209.85h.7M381.41 209.26h.7M380.71 209.55h.7M379.35 209.14h.7M378.29 207.98h.7M376.44 207.39h.7M374.81 210h.7M374.26 208.17h.7M373.19 206.45h.7M371.85 206.47h.7M370.68 207.24h.7M368.33 208.31h.7M368.46 204.6h.7M361.75 206.53h.7M360.34 205.5h.7M360.33 203.21h.7M358.4 203.87h.7M358.33 201.13h.7M355.53 203.07h.7M355.64 200.57h.7M353.82 200.86h.7M352.51 200.18h.7M350.77 201.01h.7M349.88 200.02h.7M349.75 198.51h.7M349.69 196.3h.7M344 193.22h.7M342.7 193.71h.7M341.66 192.16h.7M341.07 190.81h.7M340.43 190.04h.7M338.24 190.34h.7M338.15 188.9h.7M337.23 187.73h.7M335.71 187.93h.7M335.62 186.17h.7M335.16 184.64h.7M332.56 184.81h.7M332.62 183.86h.7M330.75 177.82h.7M329.6 176.45h.7M328.25 176.04h.7M326.6 175.45h.7M324.75 175.63h.7M326 173.42h.7M325.8 171.96h.7M323.93 171.17h.7M325.22 169.36h.7M323.01 168.65h.7M323.64 167.65h.7M320.13 161.97h.7M320.2 161.18h.7M321.16 159.1h.7M319.31 158.32h.7M318.32 157.71h.7M318.15 156.52h.7M317.85 154.78h.7M319.82 153.07h.7M315.45 152.92h.7M316.91 151.12h.7M317.77 144.76h.7M318.1 143.67h.7M319.29 142.6h.7M317.92 141.75h.7M317.07 140.56h.7M318.63 139.08h.7M317.3 137.75h.7M315.6 136.41h.7M315.88 135.88h.7M317.36 134.17h.7M317.27 128.36h.7M319.37 127.14h.7M316.47 126.31h.7M316.35 124.72h.7M316.74 123.17h.7M317.33 121.66h.7M319.21 121.37h.7M318.15 119.52h.7M319.6 113.69h.7M320.54 112.68h.7M323.2 112.02h.7M319.89 110.31h.7M321.08 108.9h.7M321.81 108.1h.7M323.64 107.52h.7M322.47 100.59h.7M324.68 100.1h.7M327.4 100.13h.7M324.66 97.03h.7M325.45 96.15h.7M325.39 95.15h.7M325.69 93.65h.7M329.96 89.09h.7M332.9 89.76h.7M333.41 89.18h.7M332.28 85.84h.7M335.86 87.48h.7M337.51 81.58h.7M336.03 78.74h.7M338.6 79.69h.7M337.89 77.3h.7M340.72 78.43h.7M340.07 75.75h.7M344.45 72.22h.7M344.84 71.17h.7M346.53 71.63h.7M347.64 70.38h.7M351.06 65.3h.7M353.06 66.6h.7M353.43 64.8h.7M355.84 66.92h.7M355.65 64.49h.7M362.04 65.54h.7M363.92 65.8h.7M363.48 61.91h.7M364.85 62.7h.7M366.4 62.38h.7M367.4 60.97h.7M368.62 61.26h.7M369.5 58.8h.7M371.34 61.22h.7M372.28 60.18h.7M372.81 58.64h.7M374.36 59.14h.7M376.37 60.83h.7M377.13 59.53h.7M378.11 57.64h.7M383.94 56.11h.7M384.63 55.85h.7M385.85 54.33h.7M387.06 54.28h.7M388.93 53.85h.7" stroke="#e2848f" stroke-width=".75" opacity=".75" fill="none"/>
<g fill="#4a3f9f" opacity=".85"><circle cx="408.36" cy="66.59" r=".65"/><circle cx="411.3" cy="81.88" r=".65"/><circle cx="414.09" cy="77.68" r=".65"/><circle cx="414.31" cy="79.46" r=".65"/><circle cx="404.31" cy="79.76" r=".65"/><circle cx="398" cy="74.11" r=".65"/><circle cx="400.22" cy="75.27" r=".65"/><circle cx="409.39" cy="79.09" r=".65"/><circle cx="405.85" cy="76" r=".65"/><circle cx="427.68" cy="83.74" r=".65"/><circle cx="430.84" cy="93.66" r=".65"/><circle cx="434.75" cy="90.17" r=".65"/><circle cx="425.98" cy="81.65" r=".65"/><circle cx="426.55" cy="84.51" r=".65"/><circle cx="422.26" cy="83.44" r=".65"/><circle cx="426.7" cy="87.18" r=".65"/><circle cx="422.52" cy="88.23" r=".65"/><circle cx="427.26" cy="87.41" r=".65"/><circle cx="446.48" cy="106.97" r=".65"/><circle cx="460.23" cy="89.64" r=".65"/><circle cx="451.79" cy="99.53" r=".65"/><circle cx="439.99" cy="104.68" r=".65"/><circle cx="449.17" cy="101.14" r=".65"/><circle cx="443.44" cy="113.16" r=".65"/><circle cx="441.26" cy="98.17" r=".65"/><circle cx="449.65" cy="122.56" r=".65"/><circle cx="453.81" cy="122.34" r=".65"/><circle cx="450.01" cy="128.52" r=".65"/><circle cx="459.22" cy="118.13" r=".65"/><circle cx="473.57" cy="114.29" r=".65"/><circle cx="447.82" cy="135.17" r=".65"/><circle cx="447.74" cy="122.89" r=".65"/><circle cx="451.07" cy="154.54" r=".65"/><circle cx="451.07" cy="150.4" r=".65"/><circle cx="459.12" cy="153.15" r=".65"/><circle cx="449.75" cy="151.56" r=".65"/><circle cx="451.65" cy="140.31" r=".65"/><circle cx="453.52" cy="153.15" r=".65"/><circle cx="453.87" cy="142.03" r=".65"/><circle cx="444.77" cy="174.63" r=".65"/><circle cx="438.85" cy="163.85" r=".65"/><circle cx="453.94" cy="164.36" r=".65"/><circle cx="440.98" cy="166.66" r=".65"/><circle cx="440.02" cy="164.26" r=".65"/><circle cx="439.86" cy="164.88" r=".65"/><circle cx="421.39" cy="179.48" r=".65"/><circle cx="430.92" cy="182.21" r=".65"/><circle cx="436.15" cy="180.38" r=".65"/><circle cx="429.36" cy="174.66" r=".65"/><circle cx="424.51" cy="181.94" r=".65"/><circle cx="423.68" cy="180.98" r=".65"/><circle cx="409.05" cy="194.71" r=".65"/><circle cx="412.69" cy="186.63" r=".65"/><circle cx="412.05" cy="183.31" r=".65"/><circle cx="409.92" cy="186.22" r=".65"/><circle cx="418.16" cy="188.42" r=".65"/><circle cx="394.8" cy="196.84" r=".65"/><circle cx="395.93" cy="204.9" r=".65"/><circle cx="396.14" cy="187.3" r=".65"/><circle cx="395.39" cy="188.47" r=".65"/><circle cx="399.71" cy="186" r=".65"/><circle cx="382.73" cy="196.83" r=".65"/><circle cx="384.33" cy="187.2" r=".65"/><circle cx="385.22" cy="187.1" r=".65"/><circle cx="380.28" cy="193.49" r=".65"/><circle cx="376.3" cy="192.26" r=".65"/><circle cx="364.05" cy="182.31" r=".65"/><circle cx="364.58" cy="179.74" r=".65"/><circle cx="364.37" cy="177.62" r=".65"/><circle cx="355.78" cy="197.42" r=".65"/><circle cx="351.64" cy="206.47" r=".65"/><circle cx="346.57" cy="175.15" r=".65"/><circle cx="353.37" cy="173.9" r=".65"/><circle cx="354.31" cy="177.31" r=".65"/><circle cx="352.82" cy="179.01" r=".65"/><circle cx="357.37" cy="174.09" r=".65"/><circle cx="347.81" cy="163.53" r=".65"/><circle cx="341.4" cy="165.23" r=".65"/><circle cx="343.93" cy="160.69" r=".65"/><circle cx="343.43" cy="159.34" r=".65"/><circle cx="340.26" cy="152.07" r=".65"/><circle cx="328.98" cy="150.01" r=".65"/><circle cx="335.81" cy="155.39" r=".65"/><circle cx="339.87" cy="150.64" r=".65"/><circle cx="338.87" cy="139.08" r=".65"/><circle cx="334.41" cy="138.26" r=".65"/><circle cx="337.8" cy="134.43" r=".65"/><circle cx="339.14" cy="140.62" r=".65"/><circle cx="335.73" cy="126.67" r=".65"/><circle cx="331.64" cy="128.15" r=".65"/><circle cx="338.05" cy="124.18" r=".65"/><circle cx="337.74" cy="116.88" r=".65"/><circle cx="333.88" cy="117.29" r=".65"/><circle cx="328.6" cy="109.59" r=".65"/><circle cx="345.7" cy="105.28" r=".65"/><circle cx="345.92" cy="107.88" r=".65"/><circle cx="339.32" cy="105.4" r=".65"/><circle cx="346.28" cy="99.41" r=".65"/><circle cx="346.55" cy="99.06" r=".65"/><circle cx="351.39" cy="90.73" r=".65"/><circle cx="352.13" cy="89.39" r=".65"/><circle cx="357.32" cy="86.24" r=".65"/><circle cx="350.21" cy="59.93" r=".65"/><circle cx="351.58" cy="63.04" r=".65"/><circle cx="370.21" cy="74.29" r=".65"/><circle cx="376.74" cy="66.36" r=".65"/><circle cx="371.96" cy="79.4" r=".65"/><circle cx="376.96" cy="79.41" r=".65"/><circle cx="370.43" cy="77.87" r=".65"/><circle cx="364.05" cy="61.46" r=".65"/><circle cx="387.55" cy="75.87" r=".65"/><circle cx="386.09" cy="75.97" r=".65"/><circle cx="394.18" cy="79.4" r=".65"/><circle cx="405.42" cy="80.58" r=".65"/><circle cx="396.08" cy="75.31" r=".65"/><circle cx="406.23" cy="76.34" r=".65"/><circle cx="393.73" cy="79.24" r=".65"/><circle cx="414.34" cy="84.2" r=".65"/><circle cx="416.47" cy="82.44" r=".65"/><circle cx="419.25" cy="85.35" r=".65"/><circle cx="371.22" cy="79.38" r=".65"/><circle cx="374.38" cy="80.96" r=".65"/><circle cx="352.56" cy="94.05" r=".65"/><circle cx="446.31" cy="136.21" r=".65"/><circle cx="393.7" cy="78.2" r=".65"/><circle cx="442.71" cy="113.59" r=".65"/><circle cx="337.27" cy="138.54" r=".65"/><circle cx="399.47" cy="189.09" r=".65"/><circle cx="349.87" cy="170.25" r=".65"/><circle cx="367.01" cy="183.99" r=".65"/><circle cx="373.65" cy="182.12" r=".65"/><circle cx="443.4" cy="158.36" r=".65"/><circle cx="368.51" cy="184.72" r=".65"/><circle cx="450.5" cy="135.71" r=".65"/><circle cx="446.91" cy="126.17" r=".65"/><circle cx="428.35" cy="176.54" r=".65"/><circle cx="339.17" cy="118.3" r=".65"/><circle cx="342.67" cy="116.78" r=".65"/></g>
<path d="M394.27 78.17Q392.85 132.55 404.62 79.44M395.22 78.2Q392.85 132.55 405.55 79.65M394.75 78.18Q392.85 132.55 414.98 82.85M415.41 83.05Q392.85 132.55 418.81 84.74M373.35 81.76Q392.85 132.55 375.14 81.11M354.12 94.35Q392.85 132.55 447.12 136.34M394.75 78.18Q392.85 132.55 443.46 112.61M338.7 137.76Q392.85 132.55 399.48 186.54M352.17 168.67Q392.85 132.55 367.73 180.8M372.21 182.88Q392.85 132.55 440.88 158.09M369.86 181.85Q392.85 132.55 447.22 134.45M446.84 125.92Q392.85 132.55 427.82 174.22M340.45 117.92Q392.85 132.55 341.29 115.2" stroke="#5fb3d6" stroke-width=".8" fill="none"/>
</svg></body></html>
